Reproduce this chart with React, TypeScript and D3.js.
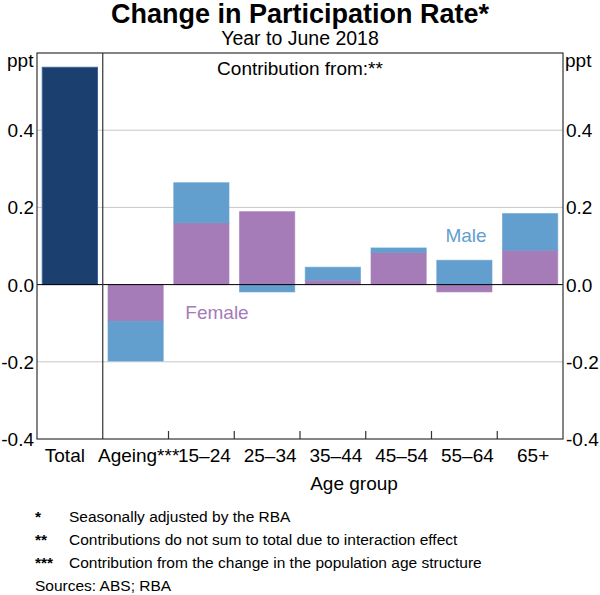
import * as d3 from "d3";

// Chart data
const totalLabel = "Total";
const totalValue = 0.563;
const groups = ["Ageing***", "15–24", "25–34", "35–44", "45–54", "55–64", "65+"];
const female = [-0.095, 0.16, 0.189, 0.011, 0.083, -0.019, 0.089];
const male = [-0.103, 0.104, -0.019, 0.034, 0.012, 0.063, 0.095];
const yTicks = [-0.4, -0.2, 0.0, 0.2, 0.4];
const footnotes = [
    ["*", "Seasonally adjusted by the RBA"],
    ["**", "Contributions do not sum to total due to interaction effect"],
    ["***", "Contribution from the change in the population age structure"],
];

const width = 600;
const height = 595;
const left = 37;
const right = 563;
const top = 53;
const bottom = 439;

const font = "'Liberation Sans', Arial, sans-serif";
const navy = "#1b3f6e";
const purple = "#a57cb7";
const blue = "#629fcf";
const fs = 19;

const fmt = (t: number) => t.toFixed(1);

export default function App() {
    const x = d3
        .scaleBand<string>()
        .domain([totalLabel, ...groups])
        .range([left, right])
        .paddingInner(0.16)
        .paddingOuter(0.08);

    const y = d3.scaleLinear().domain([-0.4, 0.6]).range([bottom, top]);

    const rows = groups.map((g, i) => ({ group: g, female: female[i], male: male[i] }));
    const series = d3
        .stack<{ group: string; female: number; male: number }>()
        .keys(["female", "male"])
        .offset(d3.stackOffsetDiverging)(rows);

    const colors: Record<string, string> = { female: purple, male: blue };
    const step = x.step();
    const boundaries = d3.range(2, 8).map((i) => left + i * step);

    return (
        <svg
            width={width}
            height={height}
            style={{ position: "absolute", left: 0, top: 0, background: "#fff" }}
            fontFamily={font}
        >
            <text x={300} y={23} textAnchor="middle" fontSize={27} fontWeight="bold">
                Change in Participation Rate*
            </text>
            <text x={300} y={45} textAnchor="middle" fontSize={19.5}>
                Year to June 2018
            </text>

            {/* gridlines */}
            {yTicks
                .filter((t) => t !== 0 && t !== -0.4)
                .map((t) => (
                    <line key={t} x1={left} x2={right} y1={y(t)} y2={y(t)} stroke="#c8c8c8" strokeWidth={1} />
                ))}

            {/* total bar */}
            <rect
                x={x(totalLabel)}
                y={y(totalValue)}
                width={x.bandwidth()}
                height={y(0) - y(totalValue)}
                fill={navy}
                stroke="#3d6496"
                strokeWidth={1}
            />

            {/* contributions */}
            {series.map((s) =>
                s.map((d) => (
                    <rect
                        key={s.key + d.data.group}
                        x={x(d.data.group)}
                        y={y(Math.max(d[0], d[1]))}
                        width={x.bandwidth()}
                        height={Math.abs(y(d[0]) - y(d[1]))}
                        fill={colors[s.key]}
                        stroke={colors[s.key]}
                        strokeOpacity={0.6}
                        strokeWidth={1}
                    />
                ))
            )}

            {/* zero line */}
            <line x1={left} x2={right} y1={y(0)} y2={y(0)} stroke="#000" strokeWidth={1} />

            {/* frame */}
            <rect x={left} y={top} width={right - left} height={bottom - top} fill="none" stroke="#333" strokeWidth={1.2} />
            <line x1={left + step} x2={left + step} y1={top} y2={bottom} stroke="#333" strokeWidth={1.2} />
            {boundaries.map((b) => (
                <line key={b} x1={b} x2={b} y1={bottom - 8} y2={bottom} stroke="#333" strokeWidth={1.2} />
            ))}

            {/* y axis labels */}
            <text x={7} y={67} fontSize={fs}>ppt</text>
            <text x={565} y={67} fontSize={fs}>ppt</text>
            {yTicks.map((t) => (
                <g key={t} fontSize={fs}>
                    <text x={34} y={y(t) + 7} textAnchor="end">
                        {fmt(t)}
                    </text>
                    <text x={566} y={y(t) + 7} textAnchor="start">
                        {fmt(t)}
                    </text>
                </g>
            ))}

            {/* x axis labels */}
            {[totalLabel, ...groups].map((c, i) => (
                <text
                    key={c}
                    x={(x(c) ?? 0) + x.bandwidth() / 2 + (i === 0 ? -5 : 3)}
                    y={462}
                    textAnchor="middle"
                    fontSize={fs}
                >
                    {c}
                </text>
            ))}
            <text x={354} y={490} textAnchor="middle" fontSize={fs}>
                Age group
            </text>

            {/* annotations */}
            <text x={300} y={75} textAnchor="middle" fontSize={fs}>
                Contribution from:**
            </text>
            <text x={466} y={242} textAnchor="middle" fontSize={fs} fill={blue}>
                Male
            </text>
            <text x={217} y={319} textAnchor="middle" fontSize={fs} fill={purple}>
                Female
            </text>

            {/* footnotes */}
            {footnotes.map(([sym, txt], i) => (
                <g key={sym} fontSize={15.5}>
                    <text x={35} y={522 + i * 23} fontWeight="bold">{sym}</text>
                    <text x={69} y={522 + i * 23}>{txt}</text>
                </g>
            ))}
            <text x={35} y={591} fontSize={15.5}>
                Sources: ABS; RBA
            </text>
        </svg>
    );
}
